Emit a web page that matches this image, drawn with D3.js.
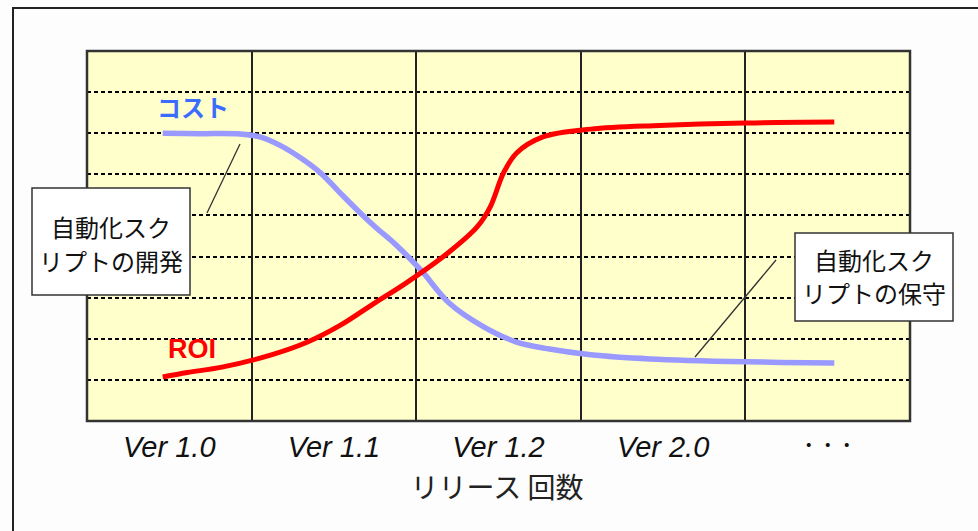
<!DOCTYPE html>
<html>
<head>
<meta charset="utf-8">
<script src="https://cdn.jsdelivr.net/npm/d3@7"></script>
<style>
  html, body { margin: 0; padding: 0; background: #fdfdfd; }
  svg { display: block; }
</style>
</head>
<body>
<script>
// ---- data ----
const categories = ["Ver 1.0", "Ver 1.1", "Ver 1.2", "Ver 2.0", "・・・"];
const gridLevels = [1, 2, 3, 4, 5, 6, 7, 8];
const costX = [0.46, 0.69, 0.93, 1.05, 1.17, 1.29, 1.42, 1.53, 1.66, 1.76, 1.86, 1.96, 2.04, 2.2, 2.41, 2.61, 2.81, 3.06, 3.42, 4.0, 4.54];
const costY = [7.0, 6.99, 6.98, 6.91, 6.71, 6.42, 6.03, 5.58, 5.06, 4.69, 4.35, 3.96, 3.62, 2.87, 2.29, 1.92, 1.75, 1.61, 1.51, 1.44, 1.41];
const roiX = [0.46, 0.61, 0.82, 1.13, 1.34, 1.54, 1.74, 1.94, 2.2, 2.37, 2.45, 2.53, 2.61, 2.77, 3.06, 3.48, 4.0, 4.54];
const roiY = [1.07, 1.18, 1.31, 1.62, 1.92, 2.33, 2.85, 3.36, 4.11, 4.72, 5.21, 6.03, 6.52, 6.91, 7.10, 7.19, 7.25, 7.27];
const seriesNames = ["コスト", "ROI"];
const axisTitle = "リリース 回数";
const calloutDev = ["自動化スク", "リプトの開発"];
const calloutMaint = ["自動化スク", "リプトの保守"];

// ---- layout ----
const W = 978, H = 531;
const plot = { left: 87, top: 51, right: 910, bottom: 421 };

const svg = d3.select("body").append("svg").attr("width", W).attr("height", H);

// outer frame (left & top edges visible)
svg.append("rect").attr("x", 13).attr("y", 8).attr("width", W + 20).attr("height", H + 20)
  .attr("fill", "#fdfdfd").attr("stroke", "#222").attr("stroke-width", 2);

const x = d3.scaleLinear().domain([0, categories.length]).range([plot.left, plot.right]);
const y = d3.scaleLinear().domain([0, 9]).range([plot.bottom, plot.top]);
const xb = d3.scaleBand().domain(categories).range([plot.left, plot.right]);

// plot background
svg.append("rect").attr("x", plot.left).attr("y", plot.top)
  .attr("width", plot.right - plot.left).attr("height", plot.bottom - plot.top)
  .attr("fill", "#ffffcc");

// dashed horizontal grid
svg.append("g").selectAll("line").data(gridLevels).join("line")
  .attr("x1", plot.left).attr("x2", plot.right)
  .attr("y1", d => Math.round(y(d))).attr("y2", d => Math.round(y(d)))
  .attr("stroke", "#000").attr("stroke-width", 2).attr("stroke-dasharray", "4,3")
  .attr("shape-rendering", "crispEdges");

// vertical solid grid
svg.append("g").selectAll("line").data(d3.range(1, categories.length)).join("line")
  .attr("x1", d => Math.round(x(d))).attr("x2", d => Math.round(x(d)))
  .attr("y1", plot.top).attr("y2", plot.bottom)
  .attr("stroke", "#222").attr("stroke-width", 2).attr("shape-rendering", "crispEdges");

// plot border
svg.append("rect").attr("x", plot.left).attr("y", plot.top)
  .attr("width", plot.right - plot.left).attr("height", plot.bottom - plot.top)
  .attr("fill", "none").attr("stroke", "#333").attr("stroke-width", 2.5);

// x axis tick labels
const xAxis = d3.axisBottom(xb).tickSize(0).tickPadding(0);
const ax = svg.append("g").attr("transform", `translate(0,${plot.bottom})`).call(xAxis);
ax.select(".domain").remove();
ax.selectAll(".tick text")
  .attr("y", 36)
  .attr("fill", "#111")
  .style("font-family", d => d === "・・・" ? "'Noto Sans CJK JP'" : "'Liberation Sans', Arial, sans-serif")
  .style("font-style", d => d === "・・・" ? "normal" : "italic")
  .style("font-size", d => d === "・・・" ? "19px" : "29px")
  .attr("dy", d => d === "・・・" ? "-4" : "0");

// axis title
svg.append("text").attr("x", 497).attr("y", 486)
  .attr("text-anchor", "middle").attr("dominant-baseline", "central")
  .style("font-family", "'Noto Sans CJK JP'").style("font-size", "28px").attr("fill", "#222")
  .text(axisTitle);

// lines
const line = d3.line().x(d => x(d[0])).y(d => y(d[1])).curve(d3.curveCatmullRom.alpha(0.5));
const costData = costX.map((v, i) => [v, costY[i]]);
const roiData = roiX.map((v, i) => [v, roiY[i]]);

svg.append("path").datum(costData).attr("d", line)
  .attr("fill", "none").attr("stroke", "#9999ff").attr("stroke-width", 5.5);
svg.append("path").datum(roiData).attr("d", line)
  .attr("fill", "none").attr("stroke", "#ff0000").attr("stroke-width", 5);

// series labels
svg.append("text").attr("x", 193).attr("y", 106)
  .attr("text-anchor", "middle").attr("dominant-baseline", "central")
  .style("font-family", "'Noto Sans CJK JP'").style("font-size", "24px").style("font-weight", "bold")
  .attr("fill", "#3a6cff").text(seriesNames[0]);
svg.append("text").attr("x", 192).attr("y", 358)
  .attr("text-anchor", "middle")
  .style("font-family", "'Liberation Sans', Arial, sans-serif").style("font-size", "27px").style("font-weight", "bold")
  .attr("fill", "#ff0000").text(seriesNames[1]);

// callouts
function callout(bx, by, bw, bh, lines, lineYs, conn) {
  svg.append("line").attr("x1", conn[0]).attr("y1", conn[1]).attr("x2", conn[2]).attr("y2", conn[3])
    .attr("stroke", "#333").attr("stroke-width", 1.3);
  svg.append("rect").attr("x", bx).attr("y", by).attr("width", bw).attr("height", bh)
    .attr("fill", "#ffffff").attr("stroke", "#333").attr("stroke-width", 1.5);
  svg.append("g").selectAll("text").data(lines).join("text")
    .attr("x", bx + bw / 2).attr("y", (d, i) => lineYs[i])
    .attr("text-anchor", "middle").attr("dominant-baseline", "central")
    .style("font-family", "'Noto Sans CJK JP'").style("font-size", "24px").attr("fill", "#111")
    .text(d => d);
}
callout(32, 188, 158, 107, calloutDev, [226, 260], [207, 213, 240, 144]);
callout(795, 233, 158, 88, calloutMaint, [259, 292], [776, 260, 695, 357]);
</script>
</body>
</html>
